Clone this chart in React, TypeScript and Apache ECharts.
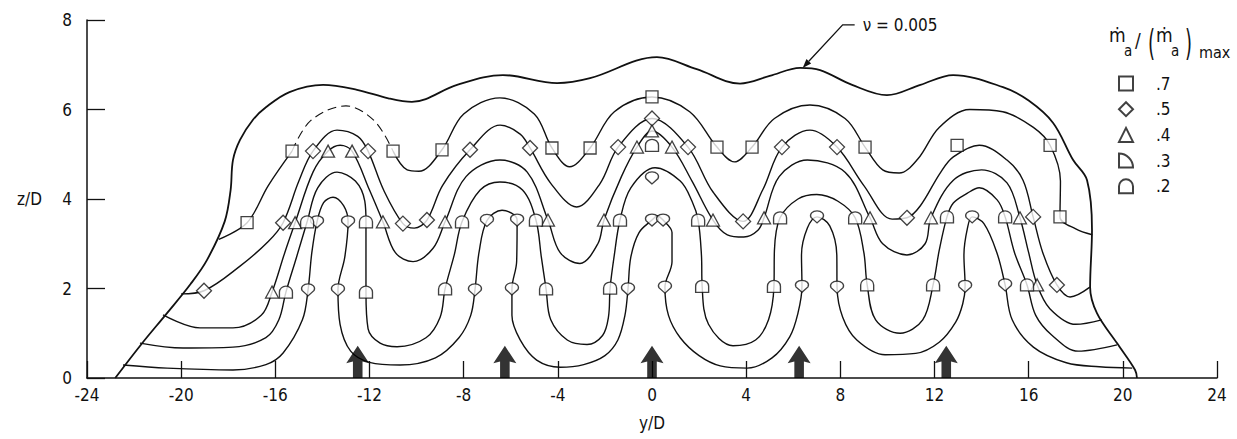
import React, { useEffect, useRef } from "react";
import * as echarts from "echarts";

type Pt = [number, number];

const FONT = "'Liberation Sans Narrow', 'DejaVu Sans Condensed', Roboto, sans-serif";
const INK = "#111";

// Axis ranges (y/D across the span, z/D above the floor)
const X_MIN = -24;
const X_MAX = 24;
const X_STEP = 4;
const Z_MIN = 0;
const Z_MAX = 8;
const Z_STEP = 2;

// Jet stations marked with arrows on the floor
const jetStations = [-12.5, -6.25, 0, 6.25, 12.5];
const jetArrowHeight = 0.72;

// Outer boundary, nu = 0.005
const boundary: Pt[] = [
  [-22.8, 0], [-21.7, 0.75], [-20.6, 1.45], [-19.6, 2.1], [-18.9, 2.64], [-18.15, 3.5],
  [-17.9, 4.2], [-17.8, 4.87], [-17.5, 5.32], [-16.95, 5.77], [-16.4, 6.05], [-15.4, 6.39],
  [-13.97, 6.55], [-12.53, 6.44], [-11.2, 6.25], [-10.2, 6.17], [-8.28, 6.55], [-6.33, 6.77],
  [-4.03, 6.59], [-2.63, 6.7], [0.21, 7.17], [1.9, 6.9], [3.74, 6.58], [5.0, 6.75],
  [6.29, 6.93], [7.14, 6.88], [8.5, 6.55], [9.98, 6.32], [11.4, 6.55], [12.79, 6.77],
  [14.91, 6.5], [16.0, 6.2], [17.04, 5.7], [17.89, 4.87], [18.48, 4.42], [18.69, 3.31],
  [18.61, 2.03], [18.9, 1.45], [19.75, 0.78], [20.52, 0.18], [20.6, 0],
];
const boundaryLabel = "ν = 0.005";
const boundaryLabelAnchor: Pt = [6.4, 6.93];

// Contour 0.7 (solid / dashed / solid pieces)
const contour07Left: Pt[] = [
  [-18.4, 3.1], [-17.2, 3.47], [-16.3, 4.3], [-15.29, 5.07],
];
const contour07Dashed: Pt[] = [
  [-15.29, 5.07], [-14.5, 5.75], [-13.0, 6.08], [-11.8, 5.75], [-11.0, 5.07],
];
const contour07Right: Pt[] = [
  [-11.0, 5.07], [-10.4, 4.65], [-9.9, 4.62], [-8.92, 5.1], [-8.0, 5.9], [-6.46, 6.26],
  [-5.0, 5.9], [-4.25, 5.14], [-3.5, 4.72], [-2.63, 5.14], [-1.6, 5.95], [0, 6.28],
  [1.6, 5.95], [2.76, 5.16], [3.5, 4.83], [4.25, 5.16], [5.2, 5.8], [6.71, 6.1],
  [8.2, 5.8], [9.05, 5.16], [9.8, 4.65], [10.5, 4.58], [11.3, 4.9], [12.2, 5.6],
  [13.5, 6.0], [14.9, 5.95], [16.2, 5.6], [16.91, 5.2], [17.35, 4.4], [17.33, 3.6],
  [18.0, 3.33], [18.7, 3.2],
];

// Contour 0.5
const contour05: Pt[] = [
  [-20.0, 1.88], [-19.03, 1.95], [-17.5, 2.5], [-16.3, 3.05], [-15.67, 3.47], [-15.0, 4.4],
  [-14.4, 5.07], [-13.38, 5.54], [-12.5, 5.4], [-12.06, 5.07], [-11.4, 4.2], [-10.58, 3.45],
  [-10.1, 3.35], [-9.56, 3.53], [-8.9, 4.3], [-7.73, 5.1], [-6.45, 5.65], [-5.6, 5.45],
  [-5.18, 5.14], [-4.3, 4.35], [-3.2, 3.82], [-2.2, 4.35], [-1.44, 5.16], [0, 5.8],
  [1.53, 5.16], [2.6, 4.15], [3.87, 3.5], [4.7, 4.2], [5.52, 5.16], [6.71, 5.54],
  [7.86, 5.16], [9.0, 4.3], [10.2, 3.55], [10.83, 3.58], [11.4, 3.85], [12.24, 4.58],
  [12.8, 4.94], [13.9, 5.2], [15.08, 4.87], [15.76, 4.42], [16.19, 3.6], [16.6, 2.8],
  [17.2, 2.08], [17.76, 1.81], [18.6, 2.03],
];

// Contour 0.4
const contour04: Pt[] = [
  [-20.77, 1.41], [-19.2, 1.12], [-17.8, 1.12], [-16.6, 1.4], [-16.14, 1.92], [-15.6, 2.8],
  [-15.16, 3.47], [-14.4, 4.6], [-13.76, 5.07], [-13.25, 5.2], [-12.74, 5.07], [-12.0, 4.2],
  [-11.43, 3.49], [-10.9, 2.8], [-10.15, 2.6], [-9.3, 2.9], [-8.79, 3.49], [-7.9, 4.5],
  [-6.46, 4.87], [-5.3, 4.6], [-4.42, 3.53], [-3.9, 2.8], [-3.06, 2.56], [-2.3, 3.0],
  [-2.04, 3.53], [-1.3, 4.5], [-0.64, 5.16], [0, 5.52], [0.85, 5.16], [1.7, 4.4],
  [2.59, 3.53], [3.2, 3.2], [3.9, 3.15], [4.5, 3.3], [4.76, 3.58], [5.4, 4.5],
  [6.6, 4.87], [8.2, 4.6], [9.26, 3.58], [9.8, 3.0], [10.83, 2.75], [11.6, 3.0],
  [11.85, 3.58], [12.8, 4.42], [14.0, 4.65], [15.08, 4.36], [15.63, 3.58], [16.0, 2.8],
  [16.36, 2.08], [16.9, 1.55], [18.0, 1.2], [19.1, 1.3],
];

// Contour 0.3 (innermost lobes)
const contour03: Pt[] = [
  [-22.47, 0.29], [-20.6, 0.22], [-17.8, 0.18], [-16.4, 0.3], [-15.67, 0.56], [-14.85, 1.3],
  [-14.61, 1.97], [-14.45, 2.8], [-14.23, 3.49], [-13.95, 3.92], [-13.55, 4.04], [-13.1, 3.85],
  [-12.91, 3.49], [-13.05, 2.7], [-13.34, 1.97], [-13.25, 1.2], [-12.8, 0.6], [-12.0, 0.35],
  [-10.7, 0.29], [-9.2, 0.45], [-8.2, 0.9], [-7.7, 1.4], [-7.52, 1.97], [-7.35, 2.8],
  [-7.01, 3.52], [-6.37, 3.75], [-5.73, 3.53], [-5.75, 2.6], [-5.95, 1.99], [-5.95, 1.4],
  [-5.6, 0.85], [-4.9, 0.4], [-3.9, 0.24], [-2.9, 0.3], [-2.0, 0.5], [-1.45, 0.85],
  [-1.15, 1.4], [-1.02, 1.99], [-0.9, 2.7], [-0.55, 3.25], [0, 3.53], [0.22, 3.62],
  [0.47, 3.53], [0.85, 3.25], [0.85, 2.6], [0.55, 2.03], [0.7, 1.4], [1.2, 0.9],
  [2.0, 0.5], [2.9, 0.27], [4.04, 0.22], [5.1, 0.45], [5.85, 0.92], [6.2, 1.45],
  [6.37, 2.05], [6.35, 2.75], [6.6, 3.35], [7.01, 3.6], [7.55, 3.4], [7.85, 2.75],
  [7.86, 2.03], [8.1, 1.36], [8.7, 0.85], [9.9, 0.52], [11.2, 0.55], [12.2, 0.8],
  [12.9, 1.25], [13.2, 1.66], [13.3, 2.05], [13.25, 2.75], [13.4, 3.35], [13.6, 3.6],
  [14.1, 3.45], [14.65, 2.8], [15.0, 2.08], [15.3, 1.3], [16.2, 0.69], [17.6, 0.34],
  [19.0, 0.25], [20.4, 0.22],
];

// Contour 0.2
const contour02: Pt[] = [
  [-21.75, 0.78], [-19.92, 0.67], [-17.8, 0.69], [-16.4, 0.9], [-15.85, 1.3], [-15.55, 1.92],
  [-15.1, 2.7], [-14.65, 3.49], [-14.2, 4.25], [-13.38, 4.6], [-12.6, 4.4], [-12.2, 3.95],
  [-12.15, 3.49], [-12.15, 1.92], [-12.06, 1.1], [-11.55, 0.78], [-10.83, 0.7], [-9.6, 0.9],
  [-9.0, 1.36], [-8.79, 1.99], [-8.4, 2.75], [-8.07, 3.49], [-7.3, 4.2], [-6.46, 4.38],
  [-5.5, 4.2], [-4.93, 3.53], [-4.7, 2.7], [-4.5, 1.99], [-4.3, 1.3], [-3.6, 0.85],
  [-2.76, 0.75], [-2.1, 0.95], [-1.85, 1.36], [-1.78, 2.01], [-1.6, 2.75], [-1.36, 3.53],
  [-0.9, 4.25], [0.13, 4.7], [1.2, 4.4], [1.7, 3.95], [1.96, 3.53], [2.1, 2.75],
  [2.13, 2.05], [2.4, 1.2], [3.44, 0.72], [4.4, 0.85], [4.95, 1.3], [5.18, 2.05],
  [5.2, 2.85], [5.44, 3.58], [6.2, 4.0], [7.0, 4.1], [7.9, 3.95], [8.63, 3.58],
  [9.0, 2.8], [9.14, 2.08], [9.5, 1.3], [10.54, 1.0], [11.5, 1.3], [11.94, 2.08],
  [12.2, 2.85], [12.53, 3.6], [12.8, 3.91], [13.4, 4.13], [13.9, 4.25], [14.66, 3.98],
  [15.0, 3.6], [15.4, 2.8], [15.93, 2.08], [16.3, 1.4], [17.0, 0.95], [18.1, 0.6],
  [19.75, 0.74],
];

// Measured points for each mass-flux ratio
const points07: Pt[] = [
  [-17.2, 3.47], [-15.29, 5.07], [-11.0, 5.07], [-8.92, 5.1], [-4.25, 5.14], [-2.63, 5.14],
  [0, 6.28], [2.76, 5.16], [4.25, 5.16], [9.05, 5.16], [12.96, 5.2], [16.91, 5.2], [17.33, 3.6],
];
const points05: Pt[] = [
  [-19.03, 1.95], [-15.67, 3.47], [-14.4, 5.07], [-12.06, 5.07], [-10.58, 3.45], [-9.56, 3.53],
  [-7.73, 5.1], [-5.18, 5.14], [-1.44, 5.16], [0, 5.8], [1.53, 5.16], [3.87, 3.5],
  [5.52, 5.16], [7.86, 5.16], [10.83, 3.58], [16.19, 3.6], [17.2, 2.08],
];
const points04: Pt[] = [
  [-16.14, 1.92], [-15.16, 3.47], [-13.76, 5.07], [-12.74, 5.07], [-11.43, 3.49], [-8.79, 3.49],
  [-4.42, 3.53], [-2.04, 3.53], [-0.64, 5.16], [0, 5.52], [0.85, 5.16], [2.59, 3.53],
  [4.76, 3.58], [9.26, 3.58], [11.85, 3.58], [15.63, 3.58], [16.36, 2.08],
];
const points03: Pt[] = [
  [-14.61, 1.97], [-14.23, 3.49], [-12.91, 3.49], [-13.34, 1.97], [-7.52, 1.97], [-7.01, 3.52],
  [-5.73, 3.53], [-5.95, 1.99], [-1.02, 1.99], [0, 3.53], [0.47, 3.53], [0, 4.47],
  [0.55, 2.03], [6.37, 2.05], [7.01, 3.6], [7.86, 2.03], [13.3, 2.05], [13.6, 3.6], [15.0, 2.08],
];
const points02: Pt[] = [
  [-15.55, 1.92], [-14.65, 3.49], [-12.15, 3.49], [-12.15, 1.92], [-8.79, 1.99], [-8.07, 3.49],
  [-4.93, 3.53], [-4.5, 1.99], [-1.78, 2.01], [-1.36, 3.53], [0, 5.2], [1.96, 3.53],
  [2.13, 2.05], [5.18, 2.05], [5.44, 3.58], [8.63, 3.58], [9.14, 2.08], [11.94, 2.08],
  [12.53, 3.6], [15.0, 3.6], [15.93, 2.08],
];

const legendNames = [".7", ".5", ".4", ".3", ".2"];

// Symbol outlines
const DOME = "path://M0,12 L0,6 C0,2.7 2.7,0 6,0 C9.3,0 12,2.7 12,6 L12,12 Z";
const QUARTER = "path://M0,0 C6.6,0 12,5.4 12,12 L0,12 Z";
const SHIELD = "path://M6,12 L1,6.6 C-0.4,3 2.2,0 6,0 C9.8,0 12.4,3 11,6.6 Z";
const JET_ARROW = "path://M7,33 L7,16 L0,18 L12,0 L24,18 L17,16 L17,33 Z";

function lineSeries(name: string, data: Pt[], extra: Record<string, unknown> = {}) {
  return {
    type: "line",
    name,
    data,
    smooth: 0.35,
    showSymbol: false,
    symbol: "none",
    silent: true,
    z: 2,
    lineStyle: { color: INK, width: 1.4 },
    ...extra,
  };
}

function pointSeries(name: string, data: Pt[], symbol: string, size: number | number[]) {
  return {
    type: "scatter",
    name,
    data,
    symbol,
    symbolSize: size,
    silent: true,
    z: 5,
    itemStyle: { color: "#fff", borderColor: INK, borderWidth: 1.3 },
  };
}

export default function App() {
  const ref = useRef<HTMLDivElement>(null);

  useEffect(() => {
    if (!ref.current) return;
    const chart = echarts.init(ref.current, undefined, { renderer: "svg" });

    const axisText = { color: INK, fontSize: 17, fontFamily: FONT };

    chart.setOption({
      animation: false,
      backgroundColor: "#fff",
      grid: { left: 87, right: 20, top: 20, bottom: 61 },
      xAxis: {
        type: "value",
        min: X_MIN,
        max: X_MAX,
        interval: X_STEP,
        name: "y/D",
        nameLocation: "middle",
        nameGap: 36,
        nameTextStyle: axisText,
        axisLine: { show: true, onZero: false, lineStyle: { color: INK, width: 1.5 } },
        axisTick: { show: true, inside: true, length: 17, lineStyle: { color: INK, width: 1.3 } },
        axisLabel: { ...axisText, margin: 8 },
        splitLine: { show: false },
      },
      yAxis: {
        type: "value",
        min: Z_MIN,
        max: Z_MAX,
        interval: Z_STEP,
        name: "z/D",
        nameLocation: "middle",
        nameRotate: 0,
        nameGap: 45,
        nameTextStyle: axisText,
        axisLine: { show: true, onZero: false, lineStyle: { color: INK, width: 1.5 } },
        axisTick: { show: true, inside: true, length: 18, lineStyle: { color: INK, width: 1.3 } },
        axisLabel: { ...axisText, margin: 15 },
        splitLine: { show: false },
      },
      legend: {
        orient: "vertical",
        left: 1113,
        top: 70,
        itemWidth: 14,
        itemHeight: 14,
        itemGap: 8.7,
        selectedMode: false,
        symbolRotate: 0,
        textStyle: { color: INK, fontSize: 17, fontFamily: FONT, padding: [0, 0, 0, 18] },
        data: [
          { name: ".7", icon: "rect" },
          { name: ".5", icon: "diamond" },
          { name: ".4", icon: "triangle" },
          { name: ".3", icon: QUARTER },
          { name: ".2", icon: DOME },
        ],
      },
      series: [
        lineSeries("boundary", boundary, { lineStyle: { color: INK, width: 1.8 } }),
        lineSeries("contour .7 a", contour07Left),
        lineSeries("contour .7 b", contour07Dashed, { lineStyle: { color: INK, width: 1.1, type: [9, 5] } }),
        lineSeries("contour .7 c", contour07Right),
        lineSeries("contour .5", contour05),
        lineSeries("contour .4", contour04),
        lineSeries("contour .3", contour03),
        lineSeries("contour .2", contour02),
        {
          type: "scatter",
          name: "jets",
          data: jetStations.map((x) => [x, 0]),
          symbol: JET_ARROW,
          symbolSize: [23, jetArrowHeight * 44.75],
          symbolOffset: [0, "-50%"],
          silent: true,
          z: 3,
          itemStyle: { color: "#000" },
        },
        pointSeries(legendNames[0], points07, "rect", 12),
        pointSeries(legendNames[1], points05, "diamond", [15, 15]),
        pointSeries(legendNames[2], points04, "triangle", [13, 12]),
        pointSeries(legendNames[3], points03, SHIELD, [13, 12]),
        pointSeries(legendNames[4], points02, DOME, [13, 12]),
      ],
    });

    // Leader from the label to the outer boundary, plus the legend heading
    const tip = chart.convertToPixel({ gridIndex: 0 }, boundaryLabelAnchor) as number[];
    const elbow = [tip[0] + 40, tip[1] - 43];
    const dx = tip[0] - elbow[0];
    const dy = tip[1] - elbow[1];
    const len = Math.hypot(dx, dy);
    const ux = dx / len;
    const uy = dy / len;
    const bx = tip[0] - ux * 9;
    const by = tip[1] - uy * 9;
    const head = [
      [tip[0], tip[1]],
      [bx + uy * 3.2, by - ux * 3.2],
      [bx - uy * 3.2, by + ux * 3.2],
    ];

    const txt = (text: string, x: number, y: number, size: number, extra: Record<string, unknown> = {}) => ({
      type: "text",
      x,
      y,
      silent: true,
      style: {
        text,
        fill: INK,
        fontSize: size,
        fontFamily: FONT,
        align: "left",
        verticalAlign: "middle",
      },
      ...extra,
    });

    chart.setOption({
      graphic: [
        {
          type: "polyline",
          silent: true,
          shape: { points: [[elbow[0] + 12, elbow[1]], elbow, [bx, by]] },
          style: { stroke: INK, lineWidth: 1.3, fill: null },
        },
        { type: "polygon", silent: true, shape: { points: head }, style: { fill: INK } },
        txt(boundaryLabel, elbow[0] + 20, elbow[1], 17),
        txt("ṁ", 1109, 35, 19),
        txt("a", 1124, 51, 15),
        txt("/", 1135, 40, 19),
        txt("(", 1148, 43, 20, { scaleY: 1.8 }),
        txt("ṁ", 1156, 35, 19),
        txt("a", 1171, 51, 15),
        txt(")", 1185, 43, 20, { scaleY: 1.8 }),
        txt("max", 1199, 52, 16),
      ],
    });

    return () => chart.dispose();
  }, []);

  return (
    <div
      ref={ref}
      style={{ position: "absolute", left: 0, top: 0, width: 1237, height: 439, background: "#fff" }}
    />
  );
}
